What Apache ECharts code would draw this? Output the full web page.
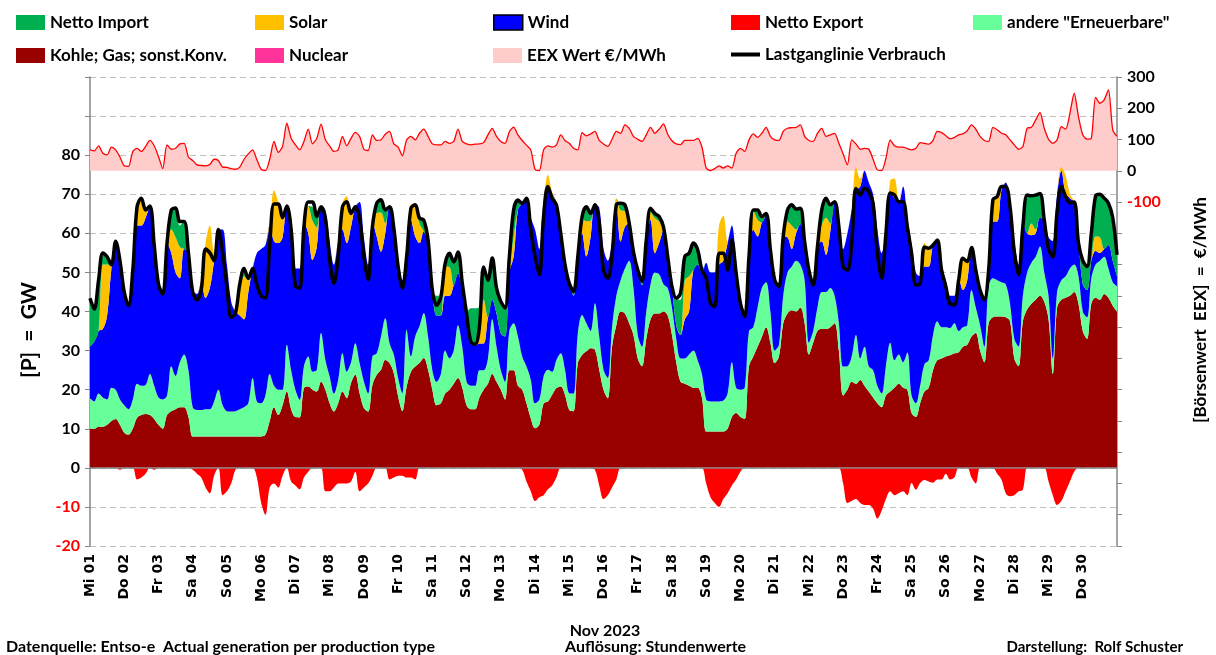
<!DOCTYPE html>
<html><head><meta charset="utf-8">
<script src="https://cdn.jsdelivr.net/npm/echarts@6/dist/echarts.min.js"></script>
<style>html,body{margin:0;padding:0;background:#fff}#c{width:1216px;height:655px}</style>
</head><body><div id="c"></div>
<script>
// Day labels (one per day, start of day)
const dayLabels = ['Mi 01','Do 02','Fr 03','Sa 04','So 05','Mo 06','Di 07','Mi 08','Do 09','Fr 10',
  'Sa 11','So 12','Mo 13','Di 14','Mi 15','Do 16','Fr 17','Sa 18','So 19','Mo 20',
  'Di 21','Mi 22','Do 23','Fr 24','Sa 25','So 26','Mo 27','Di 28','Mi 29','Do 30'];
const stepHours = 3; // samples at 0,3,...,21 h each day, plus end point
const samplesPerDay = 8;

// GW, Kohle; Gas; sonst.Konv.
const kohle = [
10,10,10.5,10.5,11,12,12.5,11,
9,8.5,10,12.8,13.5,13.8,13.5,12.5,
11,10,13.5,14.5,15,15.5,15.5,13,
8,8,8,8,8,8,8,8,
8,8,8,8,8,8,8,8,
8,8.5,12,15.5,13.5,16,19.5,15,
13,12.9,20.4,20.8,20,19.5,22,20,
16.5,14.4,16.5,19.5,17.8,21.7,23.8,19.1,
15.3,14.4,21.2,23.8,25.1,27.6,26.8,24.2,
18.3,14.5,20.8,24.6,25.9,26.8,28.1,25.1,
20,16,16.5,19,20,21.5,23,20.5,
16,15,15,18,20,21.5,24,22,
20,17.5,25,25,21,20,16.5,12.7,
10.1,11,16.5,17,18.7,20.4,20.8,18.7,
14.8,14.5,26.8,28.9,29.8,30.6,30.2,25.1,
20,17.8,31,36.5,40,39.5,37,34,
28,26,33,38,39.5,39.5,40,39,
34,27,22,21.5,21,20.5,20.5,18,
9.3,9.3,9.3,9.3,9.3,10,13,14,
13,12.5,26,28.5,31,33.5,36,32,
26.8,28.5,37,39.5,40.3,40,41,37,
29,32,35,35.5,35.5,36,37,30,
18.5,20,22,21.5,22.5,21,19.5,18,
16.5,15.5,18.5,19.5,20.5,21.5,20.5,20,
14,13,16.5,19.5,20.5,25,27.5,28,
28.5,28.8,29.3,29.6,31,31.5,33.6,34.5,
30,27,37,38.5,38.7,38.7,38.5,37.5,
28,26,37.5,40.5,42,43,44,42.5,
38,24,41,43,43.5,44,45,42,
35,33,42,43.5,43,44.5,43.5,41.5,
40];

// GW, andere "Erneuerbare"
const andere = [
7.8,7,8.5,7.5,6.5,8.5,7.5,6.5,
7,6.5,7.5,8.7,7.5,7.4,10.5,8.5,
7,7.5,5,11.5,8.5,11.5,13.5,12,
7.5,6.8,6.8,7,7,9,12,8,
6.5,6.4,6.5,7,7.5,8.5,15,9,
8.5,10,12,5.5,6.5,4,12,10,
7,4.5,5.6,7.7,4.6,5.6,12.5,7.6,
6.9,4.6,6,9.8,6.8,5.3,8.1,7.7,
6.8,4.6,7.3,5.5,8.5,10.7,5.1,4.8,
4.7,4.5,14.5,3.9,7.7,9.4,11.5,8.5,
5,6,7.5,11,8,8.5,13.5,10.5,
6,6,6,7,5,6.5,14,9,
5,4.5,10,12,12.6,8.5,9.4,9.8,
6.4,6.4,6.9,8.1,5.9,7.2,8.5,6.4,
4.3,4.5,7.6,10.2,7.2,4.4,11.9,8.5,
5.1,5.2,5,7.5,8,11.5,16,12,
6,5,7,9,10.5,10,7,7,
7,6,6,6.5,8,9.5,7,6,
8.1,7.7,7.7,7.7,7.9,9,14,6.5,
7,8,9,7.5,10,12.5,11.5,8,
3.2,3,7,10.5,11.2,13,11,11,
3,3,6,9.5,9.5,10,7,7,
7.4,6,6.5,12.5,5.5,10,6.5,7,
4.5,3.5,7.5,12.5,7,7.5,6.5,9.5,
4.5,3.5,4.5,7,7,9,10,8,
7.5,7,7.7,5.4,5,5,11.9,6.5,
6.5,4,9.5,10,9.3,8.8,8.5,4.5,
5,5,6.5,9.5,10.5,11,12.6,7.5,
6,4,4,5,5.5,7,7,7,
5,5.5,6.5,8.5,10,9.5,7.5,6,
6.5];

// GW, Wind
const wind = [
13.2,15.3,16,17.5,21.5,30.5,38,35.5,
29,26.5,33.1,40.5,41,42.8,43,36,
29,27,39,29,26.5,21.5,27,30,
30,29.7,32.7,28.5,31,36,41,45,
37.5,28.1,25.5,24,22.5,28.5,28,38,
39.5,38.5,38,37,37.5,39,35.5,39,
31,33.6,37,31.5,28.6,31.4,32.3,38.4,
34.6,33,35.5,31.6,32.9,34.7,34.9,41.2,
36.9,33,34.5,29.9,21.7,21.7,34.9,34.5,
30.5,29,21.2,34.9,25.6,21.3,20.9,24.7,
20.5,17,15,14,16,16.7,13.3,14.5,
16.7,10.8,10.3,6.8,6.8,10.5,5,8.5,
9.4,11.6,15,17,32.4,39.2,43.1,41.5,
44.5,38.6,44.6,46.4,44.4,38.9,30.7,26.9,
28.1,25,19.7,20.9,17.1,24.2,25.2,33,
31,30,22,24,9.9,10.7,9.6,9.3,
16.6,15.7,18.3,16.4,4.9,8,13.7,8.1,
5.4,3.5,6,10,11,20.6,24.5,26,
35.1,33,33,35,35.8,38.5,35,32.5,
23,19.5,19.1,24.9,18.2,16.8,17.6,15.8,
18.1,14.9,15.2,9,4.5,7,10.4,9.9,
18.6,11.8,15.6,13,9.5,14.5,24.1,24.7,
30.1,34,37.5,37,44,45,47,45,
40,36,34,38.5,41.5,39,45,34.5,
38.5,33.5,28,25,24,23,21,16,
12,8.2,7,13.5,9.5,11.5,11,11.5,
9,12,4.1,14.5,15,23.5,26,26,
25,21,19,10,7,6,7.4,13.4,
15,30,25,28,21.3,18,16,9,
7,7,4.5,3.5,2,2,6,5.5,
2.5];

// GW, Solar
const solar = [
0,0,0,16.5,13,0.5,0,0,
0,0,0,4.8,6.5,2,0,0,
0,0,0,6,9,8,0,0,
0,0,0,14,16,2,0,0,
0,0,0,7,11,3,0,0,
0,0,0,13,10.5,5,0,0,
0,0,0,7,10,5,0,0,
0,0,0,7,12,3.4,0,0,
0,0,0,6,10,2.5,0,0,
0,0,0,4,8,5,0,0,
0,0,0,7.5,7.4,0,0,0,
0,0,0,5,11.2,0,0,0,
0,0,0,5,0,0,0,0,
0,0,0,3.5,1.5,1,0,0,
0,0,0,4,9,4,0,0,
0,0,0,1,8,4,0,0,
0,0,0,2,9,5.5,0,0,
0,0,0,10,9,0,0,0,
0,0,0,10,11.5,0.5,0,0,
0,0,0,5,4.3,0,0,0,
0,0,0,4,6,1,0,0,
0,0,0,4,9.5,2,0,0,
0,0,0,6,2,0,0,0,
0,0,0,3,5,0,0,0,
0,0,0,6,5,0,0,0,
0,0,0,0,8,4.5,0,0,
0,0,0,5,6.5,1,0,0,
0,0,0,0,3,1,0,0,
0,0,0,1,4.5,1,0,0,
0,0,0,3.7,4,0,0,0,
0];

// GW, Netto Import
const nettoImport = [
12.4,8.3,13,3,2,0.5,0,0,
0,0,0,0,0,0,0,0,
0,0,0,5,7,5.5,7,0,
0,0,0,0,0,0,0,0,
0,0,0,1,2,0.5,0,0,
0,0,0,0,0,0,0,0,
0,0,0,0,3.5,2.5,0,0,
0,0,0,0,0,0,0,0,
0,0,0,2.5,3.4,3.5,0,0,
0,0,0,0,0,1.5,3,0,
0,5,5,1,3.5,6,5.4,1.5,
1,9,9.5,4.5,8.4,9.5,10.7,6.5,
8.2,7.3,4,6,2,0,0,0,
0,0,0,0,0,0.5,0,0,
0,1,0,0,3.4,2,0,0,
0,0,0,0,1.5,1.5,0,0,
0,1,0,1,1,1.5,1,0,
0,6.5,9,6,6,6.4,4,0.5,
0,0,0,0,0,0,0,0,
0,0,0,0,2,1.5,0,0,
0,0,0,3,5,5,4,0,
0,0,0,4,5,4.8,0,0,
0,0,0,0,0,0,0,0,
0,0,0,0,0,0,0,0,
0,0,0,0,0,0,0,0,
0,0,0,0,0,0,0,0,
0,0,0,0,0,0,0,0,
0,0,0,9.5,7,9,6,0,
0,0,0,0,0,0,0,0,
6,6,7,10.4,11,13,10.7,11,
5.5];

// GW, Netto Export (negative)
const nettoExport = [
0,0,0,0,0,0,0,-0.5,
0,0,0,-3,-2.5,-1.5,0,-0.5,
0,0,0,0,0,0,0,0,
-0.5,-1.5,-2.5,-5,-6.5,-2,0,-7,
-6,-4,-0.5,0,0,0,0,-2.5,
-9,-12,-5,-4,-5,-2,0,-3.5,
-4.5,-5.5,-2.5,-1,0,0,0,-6,
-6,-5,-4,-4,-4,-3.5,-1,-6,
-5,-4,-2,0,0,0,-3,-2.5,
-2,-2,-2.5,-2.5,-3,0,0,0,
0,0,0,0,0,0,0,0,
0,0,0,0,0,0,0,0,
0,0,0,0,0,-0.5,-3.5,-6,
-8.5,-7.5,-7,-5.5,-4.5,-2.5,0,0,
0,0,0,0,0,0,-0.5,-4.5,
-8,-7,-5,-3,0,0,0,0,
0,0,0,0,0,0,0,0,
0,0,0,0,0,0,0,0,
-4,-7.5,-9,-10,-8,-6.5,-4.5,-3,
-1,0,0,0,0,0,0,0,
0,0,0,0,0,0,0,0,
0,0,0,0,0,0,0,0,
-4,-9,-8.5,-8,-9,-9.5,-9.5,-10.5,
-13,-11,-8,-6,-7,-6.5,-6,-7,
-3.9,-5.6,-3.9,-3.1,-3.5,-3.8,-3,-3,
-1.5,-3,-2.5,0,0,0,-2.5,-4,
0,0,0,0,-1.5,-3,-6.5,-7.3,
-7,-6,-5.6,0,0,0,0,0,
-3.5,-7,-9.5,-8.5,-6,-3.5,-1,0,
0,0,0,0,0,0,0,0,
0];

// Nuclear: no generation in Nov 2023
const nuclear = [];

// GW, Lastganglinie Verbrauch
const last = [
43.4,40.6,48,55,54,52,58,53,
45,41.5,50.6,66.8,69,66,67,57,
47,44.5,57.5,66,66.5,63,63,55,
45,43,45.5,56,55,53,61,55,
46.4,38.5,39.6,47,51,48.5,51,46.8,
44,43.5,57,67.5,67.5,64,67,61,
46.5,46,61.7,68,68,64.3,66.8,63.9,
53.2,47.2,54.1,66.8,68.1,65.1,66.8,63.9,
54.1,48.1,61.7,67.7,68.6,66,66.8,61.3,
51.5,46,54.1,66.4,67.3,63.9,63.4,58.3,
45.5,41.6,43.8,52.3,54.9,52.7,55.2,47.2,
39.5,32.3,31.6,36,51.4,48,53.7,46,
42.6,40.9,54,66,68.5,67.7,69,61,
54.1,49.4,64.3,72,69,67.3,60,52,
47.2,45.1,54.1,64.3,66.8,65.1,67.3,62.6,
50.6,48.5,54.5,67.3,67.7,67.3,62.6,55.3,
50.6,47.7,58.3,66.4,65.1,64.3,61.7,54.1,
46.4,43.4,44.7,54.1,54.9,57.5,55.8,50.6,
48.5,42.1,41.3,54.9,54.9,50.6,58.3,49.8,
42.1,38.7,54.1,66,66,64.3,65.1,55.8,
48.1,46.4,59.2,66,67.3,66.2,66.4,57.9,
50.6,46.8,56.6,66,69,67.3,68.1,61.7,
51.5,50.6,57.5,71.5,69.8,71.5,70.7,67.7,
54.9,48.5,60,70.3,69.8,68.1,68.1,61.7,
54.9,46.8,47.2,56.5,56.2,57,58.3,50.6,
46.4,41.9,41.7,48.1,53.6,52.8,56.4,50.6,
45.5,43,50.6,68.6,69.4,72,72,66.8,
55.3,49.4,61.7,69.8,69.6,69.8,70.2,63.4,
56,54,65.5,72,69.4,67.8,68,57.5,
53,51.5,60,69.6,70,69,67.7,64,
54.5];

// EUR/MWh, EEX Wert
const eex = [
67,64,80,56,51,76,67,44,
16,14,62,72,62,78,97,80,
46,7,83,69,72,86,88,44,
33,19,17,16,20,37,33,12,
11,7,5,12,37,54,67,35,
5,1,37,94,59,78,152,104,
83,67,94,133,86,104,149,99,
80,62,67,110,80,104,123,110,
69,65,115,97,99,117,126,86,
76,48,99,110,99,120,133,110,
86,83,83,94,88,94,133,94,
86,83,85,86,90,115,136,110,
94,88,125,140,115,97,82,67,
5,1,67,80,76,83,115,97,
88,72,67,122,112,118,126,97,
86,78,101,126,120,147,136,110,
101,94,115,139,120,133,150,117,
96,86,84,97,97,97,104,76,
9,1,7,16,9,16,9,56,
72,62,99,118,107,120,139,110,
99,97,126,136,138,139,147,110,
97,94,120,136,110,115,120,88,
54,19,99,86,69,72,69,37,
3,1,40,99,80,76,76,71,
67,72,90,88,85,97,126,122,
112,102,107,115,118,128,147,133,
110,97,94,139,131,120,115,99,
83,69,78,136,139,163,186,136,
101,88,99,141,133,184,248,173,
115,101,104,235,216,227,259,131,
110];

const FONT = 'Lato';
const hourCats = kohle.map((_, i) => String(i * stepHours));

const areaSeries = (name, data, color) => ({
  name, type: 'line', stack: 'gen', data, color,
  symbol: 'none', smooth: 0.35,
  lineStyle: { width: 0 }, areaStyle: { color, opacity: 1 },
  emphasis: { disabled: true }, z: 3
});

const legendText = { fontFamily: FONT, fontWeight: 'bold', fontSize: 17, color: '#000' };
const mkLegend = (name, left, top, extra) => Object.assign({
  data: [name], left, top, icon: 'rect', itemWidth: 29, itemHeight: 15, itemGap: 0,
  textStyle: legendText, selectedMode: false, padding: 0
}, extra || {});

const chart = echarts.init(document.getElementById('c'), null, { renderer: 'canvas' });
chart.setOption({
  animation: false,
  backgroundColor: '#fff',
  grid: { left: 90, right: 99, top: 77, bottom: 109 },
  legend: [
    mkLegend('Netto Import', 16, 14),
    mkLegend('Solar', 255, 14),
    mkLegend({ name: 'Wind', itemStyle: { borderColor: '#000', borderWidth: 1.5 } }, 493, 14),
    mkLegend('Netto Export', 731, 14),
    mkLegend('andere "Erneuerbare"', 973, 14),
    mkLegend('Kohle; Gas; sonst.Konv.', 16, 47),
    mkLegend('Nuclear', 255, 47),
    mkLegend({ name: 'EEX Wert €/MWh', itemStyle: { color: '#FFCCCC', borderWidth: 0 } }, 493, 47),
    mkLegend('Lastganglinie Verbrauch', 731, 46, { itemHeight: 4 })
  ],
  xAxis: {
    type: 'category', data: hourCats, boundaryGap: false,
    axisLine: { show: false }, axisTick: { show: false }, splitLine: { show: false },
    axisLabel: {
      rotate: 90, margin: 8, color: '#000', fontFamily: 'DejaVu Sans', fontWeight: 'bold', fontSize: 14,
      interval: (index) => index % samplesPerDay === 0,
      formatter: (value, index) => dayLabels[index / samplesPerDay] || ''
    }
  },
  yAxis: [
    {
      type: 'value', min: -20, max: 100, interval: 10, position: 'left',
      axisLine: { show: true, lineStyle: { color: '#868686', width: 1.5 } },
      axisTick: { show: true, length: 5, lineStyle: { color: '#868686' } },
      splitLine: { show: true, lineStyle: { color: '#BFBFBF', type: [6, 4], width: 1.2 } },
      axisLabel: {
        margin: 10,
        formatter: v => v > 80 ? '' : (v < 0 ? '{r|' + v + '}' : '{b|' + v + '}'),
        rich: {
          r: { color: '#FF0000', fontFamily: FONT, fontWeight: 'bold', fontSize: 16 },
          b: { color: '#000', fontFamily: FONT, fontWeight: 'bold', fontSize: 16 }
        }
      }
    },
    {
      type: 'value', min: -1200, max: 300, interval: 100, position: 'right',
      axisLine: { show: true, lineStyle: { color: '#868686', width: 1.5 } },
      axisTick: { show: true, length: 5, lineStyle: { color: '#868686' } },
      splitLine: { show: false },
      axisLabel: {
        margin: 10,
        formatter: v => v >= 0 ? '{b|' + v + '}' : (v === -100 ? '{r|' + v + '}' : ''),
        rich: {
          r: { color: '#FF0000', fontFamily: FONT, fontWeight: 'bold', fontSize: 16 },
          b: { color: '#000', fontFamily: FONT, fontWeight: 'bold', fontSize: 16 }
        }
      }
    }
  ],
  series: [
    {
      name: 'EEX Wert €/MWh', type: 'line', yAxisIndex: 1, data: eex, color: '#FF0000',
      symbol: 'none', smooth: 0.25, lineStyle: { width: 1.3, color: '#FF0000' },
      areaStyle: { color: '#FFCCCC', opacity: 1 }, emphasis: { disabled: true }, z: 2
    },
    areaSeries('Kohle; Gas; sonst.Konv.', kohle, '#990000'),
    areaSeries('andere "Erneuerbare"', andere, '#66FF99'),
    areaSeries('Wind', wind, '#0000FF'),
    areaSeries('Solar', solar, '#FFC000'),
    areaSeries('Netto Import', nettoImport, '#00B050'),
    { name: 'Nuclear', type: 'line', data: nuclear, color: '#FF3399', symbol: 'none' },
    {
      name: 'Netto Export', type: 'line', data: nettoExport, color: '#FF0000',
      symbol: 'none', smooth: 0.35, lineStyle: { width: 0 },
      areaStyle: { color: '#FF0000', opacity: 1 }, emphasis: { disabled: true }, z: 3,
      markLine: {
        silent: true, symbol: 'none', label: { show: false },
        lineStyle: { color: '#868686', type: 'solid', width: 1.5 }, data: [{ yAxis: 0 }]
      }
    },
    {
      name: 'Lastganglinie Verbrauch', type: 'line', data: last, color: '#000',
      symbol: 'none', smooth: 0.35, lineStyle: { width: 3.5, color: '#000' },
      emphasis: { disabled: true }, z: 5
    }
  ],
  graphic: [
    { type: 'text', x: 29, y: 330, rotation: Math.PI / 2,
      style: { text: '[P]  =  GW', font: 'bold 21px Lato', fill: '#000', align: 'center', verticalAlign: 'middle', textAlign: 'center', textVerticalAlign: 'middle' } },
    { type: 'text', x: 1201, y: 310, rotation: Math.PI / 2,
      style: { text: '[Börsenwert  EEX]  =  €/MWh', font: 'bold 17px Lato', fill: '#000', align: 'center', verticalAlign: 'middle', textAlign: 'center', textVerticalAlign: 'middle' } },
    { type: 'text', x: 605, y: 631,
      style: { text: 'Nov 2023', font: 'bold 16px Lato', fill: '#000', align: 'center', verticalAlign: 'middle', textAlign: 'center', textVerticalAlign: 'middle' } },
    { type: 'text', x: 6, y: 647,
      style: { text: 'Datenquelle: Entso-e  Actual generation per production type', font: 'bold 16px Lato', fill: '#000', align: 'left', verticalAlign: 'middle', textAlign: 'left', textVerticalAlign: 'middle' } },
    { type: 'text', x: 565, y: 647,
      style: { text: 'Auflösung: Stundenwerte', font: 'bold 16px Lato', fill: '#000', align: 'left', verticalAlign: 'middle', textAlign: 'left', textVerticalAlign: 'middle' } },
    { type: 'text', x: 1183, y: 647,
      style: { text: 'Darstellung:  Rolf Schuster', font: 'bold 15px Lato', fill: '#000', align: 'right', verticalAlign: 'middle', textAlign: 'right', textVerticalAlign: 'middle' } }
  ]
});
</script>
</body></html>
